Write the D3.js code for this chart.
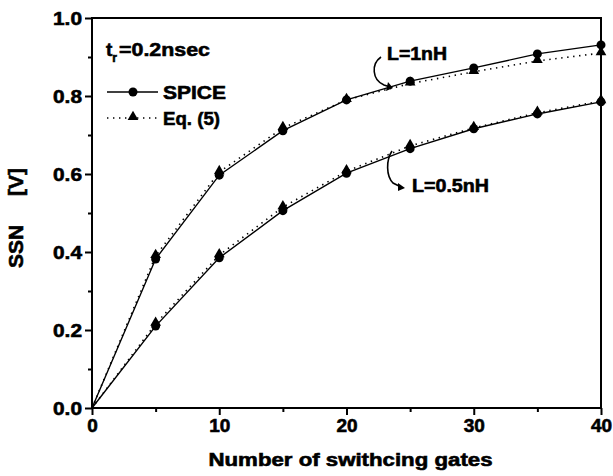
<!DOCTYPE html>
<html>
<head>
<meta charset="utf-8">
<script src="https://cdn.jsdelivr.net/npm/d3@7"></script>
<style>
  body { margin: 0; background: #fff; }
</style>
</head>
<body>
<svg id="chart"></svg>
<script>
// number of switching gates
const gates = [0, 5, 10, 15, 20, 25, 30, 35, 40];
// L = 1nH
const spice1nH = [0, 0.382, 0.597, 0.711, 0.79, 0.838, 0.872, 0.908, 0.931];
const eq1nH    = [0, 0.39, 0.605, 0.718, 0.79, 0.832, 0.862, 0.89, 0.91];
// L = 0.5nH
const spice05nH = [0, 0.21, 0.385, 0.506, 0.602, 0.665, 0.716, 0.754, 0.785];
const eq05nH    = [0, 0.216, 0.392, 0.515, 0.607, 0.672, 0.718, 0.757, 0.787];

const xTicks = [0, 10, 20, 30, 40];
const yTicks = [0.0, 0.2, 0.4, 0.6, 0.8, 1.0];

const width = 613, height = 476;
const margin = { top: 18, right: 12, bottom: 68, left: 92 };
const FONT = '"Liberation Sans", Arial, sans-serif';

const svg = d3.select('#chart').attr('width', width).attr('height', height);

const x = d3.scaleLinear().domain([0, 40]).range([margin.left, width - margin.right]);
const y = d3.scaleLinear().domain([0, 1]).range([height - margin.bottom, margin.top]);

// bold labels, a little heavier like the scanned original
function label(sel, size) {
  return sel.attr('font-family', FONT).attr('font-weight', 'bold')
    .attr('font-size', size).attr('fill', '#000')
    .attr('stroke', '#000').attr('stroke-width', 0.6);
}
// original font is wider than Arial, so stretch to the measured width
function stretch(sel, len) {
  return sel.attr('textLength', len).attr('lengthAdjust', 'spacingAndGlyphs');
}

// minor ticks
svg.append('g')
  .attr('transform', `translate(0,${y(0)})`)
  .call(d3.axisBottom(x).tickValues([5, 15, 25, 35]).tickSize(4).tickFormat(''))
  .call(g => g.select('.domain').remove())
  .selectAll('line').attr('stroke-width', 2);
svg.append('g')
  .attr('transform', `translate(${x(0)},0)`)
  .call(d3.axisLeft(y).tickValues([0.1, 0.3, 0.5, 0.7, 0.9]).tickSize(4).tickFormat(''))
  .call(g => g.select('.domain').remove())
  .selectAll('line').attr('stroke-width', 2);

// major ticks + labels
const xAxis = svg.append('g')
  .attr('transform', `translate(0,${y(0)})`)
  .call(d3.axisBottom(x).tickValues(xTicks).tickSize(7).tickPadding(4).tickFormat(d3.format('d')));
xAxis.select('.domain').remove();
xAxis.selectAll('line').attr('stroke-width', 2);
label(xAxis.selectAll('text'), 19);

const yAxis = svg.append('g')
  .attr('transform', `translate(${x(0)},0)`)
  .call(d3.axisLeft(y).tickValues(yTicks).tickSize(7).tickPadding(3).tickFormat(d3.format('.1f')));
yAxis.select('.domain').remove();
yAxis.selectAll('line').attr('stroke-width', 2);
stretch(label(yAxis.selectAll('text'), 19), 29);

// frame
svg.append('rect')
  .attr('x', x(0)).attr('y', y(1))
  .attr('width', x(40) - x(0)).attr('height', y(0) - y(1))
  .attr('fill', 'none').attr('stroke', '#000').attr('stroke-width', 2);

const line = d3.line().x((d, i) => x(gates[i])).y(d => y(d));

function drawSeries(vals, dotted, marker) {
  svg.append('path')
    .datum(vals)
    .attr('d', line)
    .attr('fill', 'none')
    .attr('stroke', '#000')
    .attr('stroke-width', dotted ? 1.6 : 1.4)
    .attr('stroke-dasharray', dotted ? '1.4,4.6' : null);
  const pts = vals.map((v, i) => [gates[i], v]).filter(d => d[0] > 0);
  if (marker === 'circle') {
    svg.append('g').selectAll('circle').data(pts).enter().append('circle')
      .attr('cx', d => x(d[0])).attr('cy', d => y(d[1])).attr('r', 4.5).attr('fill', '#000');
  } else {
    svg.append('g').selectAll('path').data(pts).enter().append('path')
      .attr('d', d3.symbol(d3.symbolTriangle, 50))
      .attr('transform', d => `translate(${x(d[0])},${y(d[1]) - 1})`)
      .attr('fill', '#000');
  }
}

drawSeries(eq1nH, true, 'triangle');
drawSeries(eq05nH, true, 'triangle');
drawSeries(spice1nH, false, 'circle');
drawSeries(spice05nH, false, 'circle');

// axis titles
stretch(label(svg.append('text'), 18), 284)
  .attr('x', (x(0) + x(40)) / 2 + 4).attr('y', 466)
  .attr('text-anchor', 'middle')
  .text('Number of swithcing gates');

stretch(label(svg.append('text'), 20), 100)
  .attr('transform', `translate(23,218) rotate(-90)`)
  .attr('text-anchor', 'middle')
  .attr('xml:space', 'preserve')
  .text('SSN     [V]');

// legend
const tr = label(svg.append('text'), 19).attr('x', 106).attr('y', 56);
tr.append('tspan').text('t');
tr.append('tspan').attr('dy', 6).attr('font-size', 12).text('r');
stretch(tr.append('tspan').attr('dy', -6).attr('x', 119), 91).text('=0.2nsec');

svg.append('line').attr('x1', 107).attr('x2', 158).attr('y1', 92).attr('y2', 92)
  .attr('stroke', '#000').attr('stroke-width', 1.4);
svg.append('circle').attr('cx', 133).attr('cy', 92).attr('r', 4.5).attr('fill', '#000');
stretch(label(svg.append('text'), 19), 63).attr('x', 163).attr('y', 99).text('SPICE');

svg.append('line').attr('x1', 107).attr('x2', 158).attr('y1', 118).attr('y2', 118)
  .attr('stroke', '#000').attr('stroke-width', 1.6).attr('stroke-dasharray', '1.4,4.6');
svg.append('path').attr('d', d3.symbol(d3.symbolTriangle, 50))
  .attr('transform', 'translate(133,117)').attr('fill', '#000');
stretch(label(svg.append('text'), 19), 57).attr('x', 163).attr('y', 125).text('Eq. (5)');

// annotations
stretch(label(svg.append('text'), 18), 60).attr('x', 387).attr('y', 60).text('L=1nH');
svg.append('path')
  .attr('d', 'M381,57 C371,64 372,80 384,85 L390,87')
  .attr('fill', 'none').attr('stroke', '#000').attr('stroke-width', 1.6);
svg.append('path').attr('d', 'M388,82 L393,88 L386,91 Z').attr('fill', '#000');

stretch(label(svg.append('text'), 18), 77).attr('x', 412).attr('y', 192).text('L=0.5nH');
svg.append('path')
  .attr('d', 'M392,151 C386,160 386,176 393,183 L401,187')
  .attr('fill', 'none').attr('stroke', '#000').attr('stroke-width', 1.6);
svg.append('path').attr('d', 'M398,183 L405,188 L398,191 Z').attr('fill', '#000');
</script>
</body>
</html>
